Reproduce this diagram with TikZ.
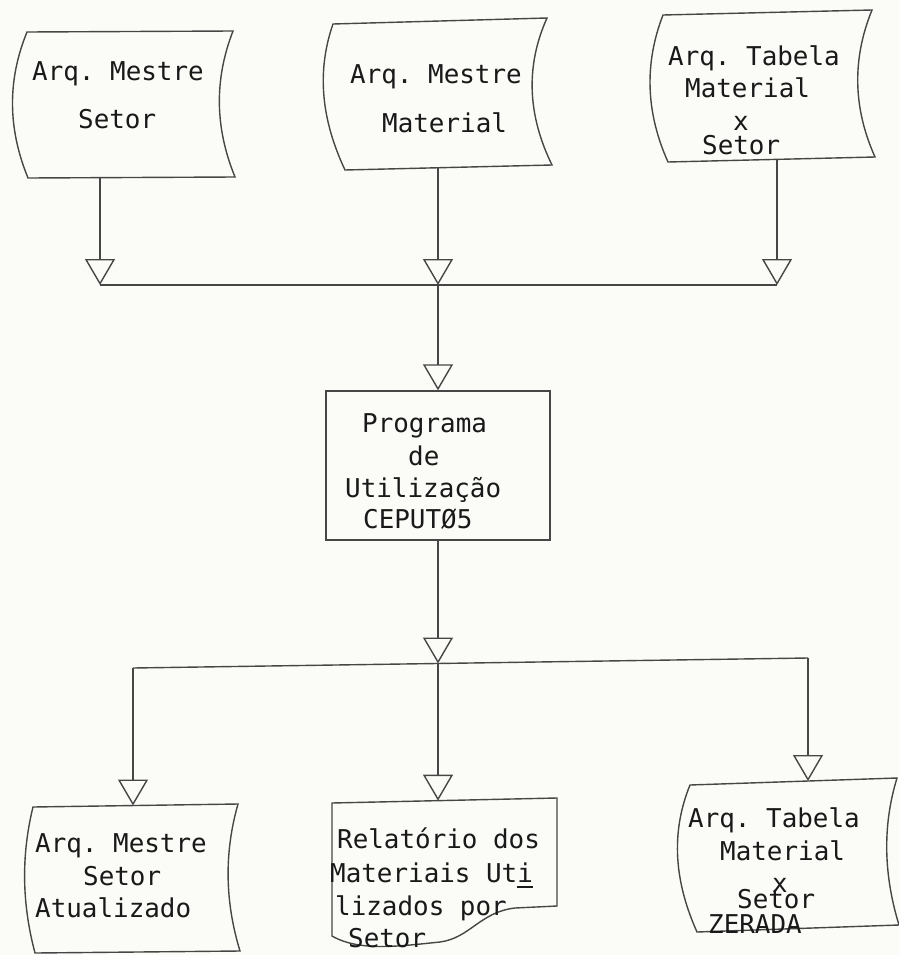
\documentclass[tikz,border=0pt]{standalone}
\usepackage{fontspec}
\setmonofont{DejaVu Sans Mono}
\usetikzlibrary{arrows.meta}
\definecolor{linec}{RGB}{70,70,70}
\definecolor{textc}{RGB}{25,25,25}
\definecolor{bgc}{RGB}{251,251,247}
\begin{document}
\begin{tikzpicture}[x=1bp,y=-1bp,
  ln/.style={draw=linec, line width=1.4bp},
  flow/.style={ln, -{Triangle[open,length=26bp,width=30bp,line width=1.4bp]}},
  txt/.style={anchor=base west, inner sep=0pt, font=\ttfamily\fontsize{26}{30}\selectfont, text=textc}]
\fill[bgc] (0,0) rectangle (899,955);
\useasboundingbox (0,0) rectangle (899,955);

% ---------- top storage shapes ----------
\draw[ln] (27,32) -- (233,31) .. controls (214,80) and (215,128) .. (235,177)
  -- (28,178) .. controls (8,129) and (7,81) .. (27,32) -- cycle;
\node[txt] (t1a) at (32,80) {Arq. Mestre};
\node[txt] (t1b) at (78,128) {Setor};

\draw[ln] (333,24) -- (547,18) .. controls (525,67) and (528,116) .. (552,165)
  -- (345,170) .. controls (322,121) and (316,73) .. (333,24) -- cycle;
\node[txt] (t2a) at (350,83) {Arq. Mestre};
\node[txt] (t2b) at (382,132) {Material};

\draw[ln] (663,15) -- (872,10) .. controls (852,59) and (853,108) .. (875,157)
  -- (668,162) .. controls (646,113) and (644,64) .. (663,15) -- cycle;
\node[txt] (t3a) at (668,65) {Arq. Tabela};
\node[txt] (t3b) at (685,97) {Material};
\node[txt] (t3c) at (733,130) {x};
\node[txt] (t3d) at (702,154) {Setor};

% ---------- process ----------
\node[ln, draw, minimum width=224bp, minimum height=149bp, inner sep=0pt] (prog) at (438,465.5) {};
\node[txt] (pa) at (362,432) {Programa};
\node[txt] (pb) at (408,465) {de};
\node[txt] (pc) at (345,497) {Utilização};
\node[txt] (pd) at (363,528) {CEPUTØ5};

% ---------- bottom shapes ----------
\draw[ln] (33,807) -- (238,804) .. controls (224,853) and (225,902) .. (240,951)
  -- (35,953) .. controls (22,904) and (21,856) .. (33,807) -- cycle;
\node[txt] (b1a) at (35,852) {Arq. Mestre};
\node[txt] (b1b) at (83,885) {Setor};
\node[txt] (b1c) at (35,917) {Atualizado};

\draw[ln] (332,803) -- (557,798) -- (557,906) -- (515,908)
  .. controls (480,912) and (470,938) .. (440,942)
  .. controls (400,946) and (360,952) .. (332,936) -- cycle;
\node[txt] (d1) at (337,848) {Relatório dos};
\node[txt] (d2) at (330,882) {Materiais Ut\rlap{\rule[-6pt]{15.6pt}{1.6pt}}i};
\node[txt] (d3) at (335,915) {lizados por};
\node[txt] (d4) at (348,947) {Setor};

\draw[ln] (690,785) -- (897,778) .. controls (882,827) and (884,876) .. (899,925)
  -- (697,932) .. controls (675,883) and (670,834) .. (690,785) -- cycle;
\node[txt] (b3a) at (688,827) {Arq. Tabela};
\node[txt] (b3b) at (720,860) {Material};
\node[txt] (b3c) at (772,892) {x};
\node[txt] (b3d) at (737,908) {Setor};
\node[txt] (b3e) at (708,933) {ZERADA};

% ---------- connectors ----------
\coordinate (s1b) at (100,178);
\coordinate (s2b) at (438,168);
\coordinate (s3b) at (777,160);
\coordinate (j1) at (100,285);
\coordinate (j2) at (438,285);
\coordinate (j3) at (777,285);
\draw[flow] (s1b) -- (j1);
\draw[flow] (s2b) -- (j2);
\draw[flow] (s3b) -- (j3);
\draw[ln] (j1) -- (j3);
\draw[flow] (j2) -- (prog.north);

\coordinate (k1) at (133,668);
\coordinate (k2) at (438,663.5);
\coordinate (k3) at (808,658);
\coordinate (s4t) at (133,805.5);
\coordinate (dt) at (438,800.6);
\coordinate (s5t) at (808,781);
\draw[flow] (prog.south) -- (k2);
\draw[ln] (k1) -- (k3);
\draw[flow] (k1) -- (s4t);
\draw[flow] (k2) -- (dt);
\draw[flow] (k3) -- (s5t);
\end{tikzpicture}
\end{document}
